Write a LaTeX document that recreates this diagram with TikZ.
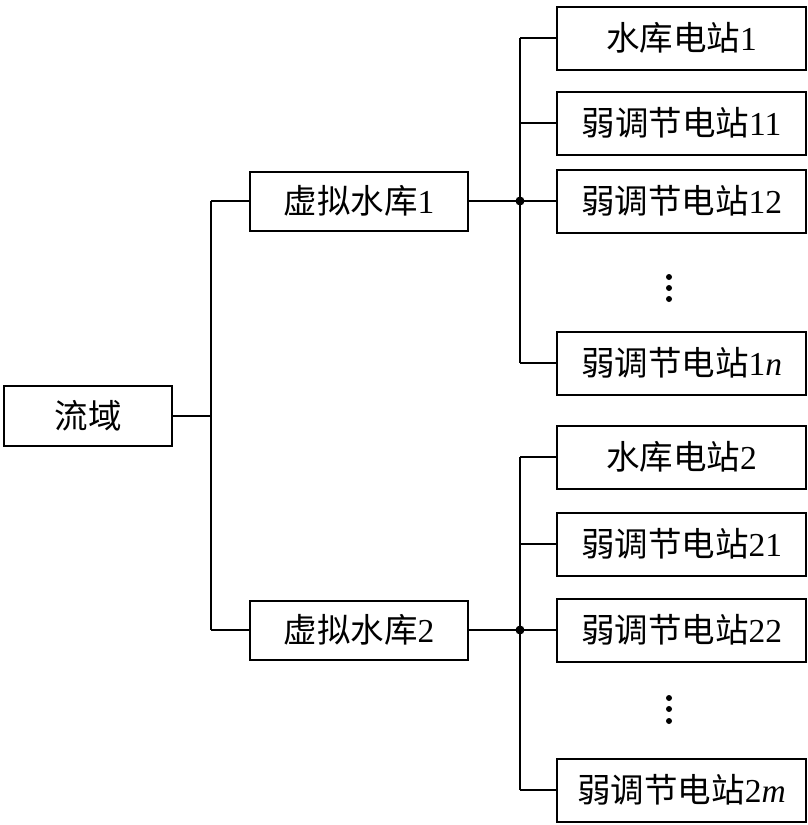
\documentclass[tikz,border=0pt]{standalone}
\usepackage{fontspec}
\setmainfont{Liberation Serif}
\newfontfamily\cjk{Noto Sans CJK SC}
\begin{document}
\begin{tikzpicture}[x=1pt,y=-1pt,
  box/.style={draw,line width=2pt,rectangle,inner sep=0pt,font=\fontsize{33.5}{38}\selectfont},
  leftbox/.style={box,minimum width=168pt,minimum height=60pt},
  midbox/.style={box,minimum width=218pt,minimum height=59pt},
  rbox/.style={box,minimum width=249pt,minimum height=63pt},
  conn/.style={line width=2pt},
  jdot/.style={circle,fill,inner sep=0pt,minimum size=9pt},
  edot/.style={circle,fill,inner sep=0pt,minimum size=6pt}]
\useasboundingbox (0,0) rectangle (808,825);
\node[leftbox] (liuyu) at (88,416) {\cjk 流域};
\node[midbox] (v1) at (359,201) {\cjk 虚拟水库\rmfamily 1};
\node[midbox] (v2) at (359,630) {\cjk 虚拟水库\rmfamily 2};
\node[rbox] (s1) at (681.5,38) {\cjk 水库电站\rmfamily 1};
\node[rbox] (s11) at (681.5,123) {\cjk 弱调节电站\rmfamily 11};
\node[rbox] (s12) at (681.5,201) {\cjk 弱调节电站\rmfamily 12};
\node[rbox] (s1n) at (681.5,363) {\cjk 弱调节电站\rmfamily 1\textit{n}};
\node[rbox] (s2) at (681.5,457) {\cjk 水库电站\rmfamily 2};
\node[rbox] (s21) at (681.5,544) {\cjk 弱调节电站\rmfamily 21};
\node[rbox] (s22) at (681.5,630) {\cjk 弱调节电站\rmfamily 22};
\node[rbox] (s2m) at (681.5,790) {\cjk 弱调节电站\rmfamily 2\textit{m}};
\coordinate (b) at (211,416);
\coordinate (j1) at (520,201);
\coordinate (j2) at (520,630);
% left tree
\draw[conn] (liuyu.east) -- (liuyu.east -| b);
\draw[conn] (v1.west -| b) -- (v2.west -| b);
\draw[conn] (v1.west -| b) -- (v1.west);
\draw[conn] (v2.west -| b) -- (v2.west);
% group 1
\draw[conn] (v1.east) -- (v1.east -| j1);
\draw[conn] (s1.west -| j1) -- (s1n.west -| j1);
\foreach \n in {s1,s11,s12,s1n}{\draw[conn] (\n.west -| j1) -- (\n.west);}
\node[jdot] (d1) at (j1) {};
% group 2
\draw[conn] (v2.east) -- (v2.east -| j2);
\draw[conn] (s2.west -| j2) -- (s2m.west -| j2);
\foreach \n in {s2,s21,s22,s2m}{\draw[conn] (\n.west -| j2) -- (\n.west);}
\node[jdot] (d2) at (j2) {};
% ellipses
\foreach \y [count=\i] in {277,288,299}{\node[edot] (e1\i) at (669,\y) {};}
\foreach \y [count=\i] in {698,709,721}{\node[edot] (e2\i) at (669,\y) {};}
\end{tikzpicture}
\end{document}
